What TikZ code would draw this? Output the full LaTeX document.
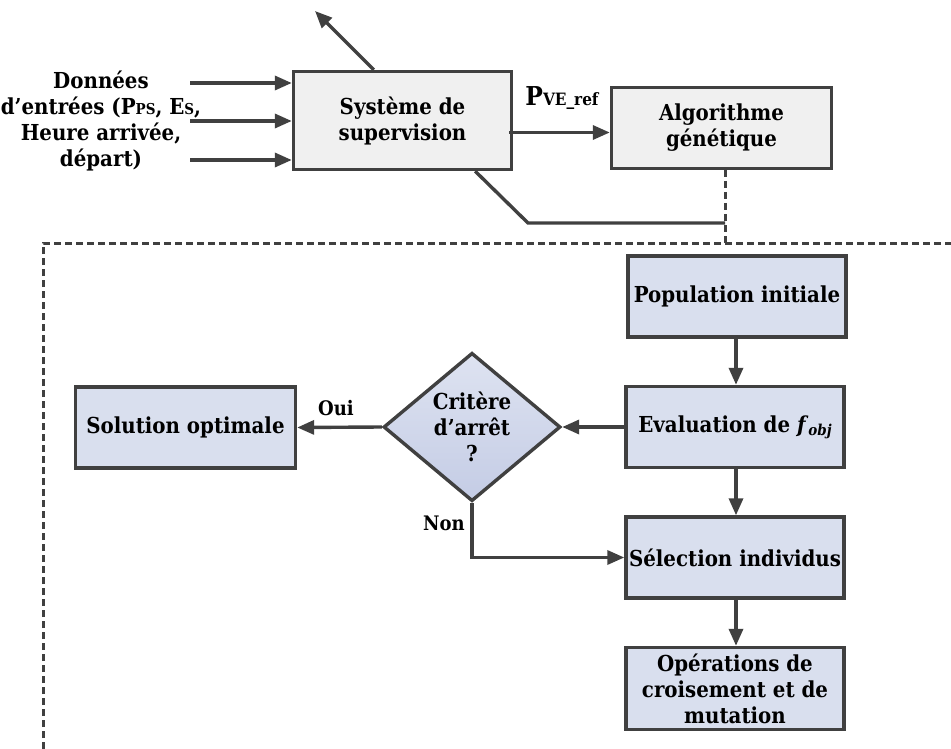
\documentclass[tikz,border=0pt]{standalone}
\usepackage{fontspec}
\setmainfont[FakeStretch=0.9]{DejaVu Serif}
\usetikzlibrary{arrows.meta,shapes.geometric,calc}
\definecolor{edgec}{HTML}{404040}
\definecolor{grayfill}{HTML}{F0F0F0}
\definecolor{bluefill}{HTML}{D9DFEE}
\definecolor{diatop}{HTML}{DEE3F1}
\definecolor{diabot}{HTML}{C4CCE5}
\begin{document}
\begin{tikzpicture}[x=1pt,y=-1pt,
  txt/.style={font=\fontsize{22}{26}\selectfont\bfseries, align=center},
  boxbase/.style={txt, draw=edgec, line width=3.4pt, inner sep=2pt},
  upbox/.style={boxbase, fill=grayfill},
  lowbox/.style={boxbase, fill=bluefill, minimum width=218pt, minimum height=81pt},
  decide/.style={txt, diamond, draw=edgec, line width=3.4pt, top color=diatop, bottom color=diabot, minimum width=177pt, minimum height=127pt, inner sep=0pt},
  arr/.style={draw=edgec, line width=3.4pt, -{Triangle[length=17pt,width=14pt]}},
  ln/.style={draw=edgec, line width=3.4pt},
  dsh/.style={draw=edgec, line width=3pt, dash pattern=on 7pt off 4pt},
  lbl/.style={font=\fontsize{20}{23}\selectfont\bfseries}
]
\useasboundingbox (0,0) rectangle (951,749);

% upper part
\node[upbox, minimum width=218pt, minimum height=98pt] (sys) at (402.5,120.5) {Système de\\supervision};
\node[upbox, minimum width=220pt, minimum height=81pt] (alg) at (721.5,128) {Algorithme\\génétique};
\node[txt] (inp) at (101,121) {Données\\d’entrées (P{\fontsize{15}{16}\selectfont PS}, E{\fontsize{15}{16}\selectfont S},\\Heure arrivée,\\départ)};
\node (pve) at (562,98) {\bfseries{\fontsize{26}{30}\selectfont P}{\fontsize{17}{20}\selectfont VE\_ref}};

\coordinate (in1) at (190,83);
\coordinate (in2) at (190,121);
\coordinate (in3) at (190,160);
\draw[arr] (in1) -- (in1 -| sys.west);
\draw[arr] (in2) -- (in2 -| sys.west);
\draw[arr] (in3) -- (in3 -| sys.west);

\coordinate (outp) at (315,11);
\draw[arr] ($(sys.north west)+(82,0)$) -- (outp);

\coordinate (sa) at ($(sys.east)+(-4,12)$);
\draw[arr] (sa) -- (sa -| alg.west);

\coordinate (fb1) at (528,223);
\coordinate (fb2) at (725,223);
\draw[ln] ($(sys.south east)+(-38,0)$) -- (fb1) -- (fb2);

% dashed frame
\coordinate (dtop) at (725,243);
\coordinate (dl) at (43,243);
\coordinate (dlb) at (43,749);
\coordinate (dr) at (951,243);
\draw[dsh] (725,170) -- (dtop);
\draw[dsh] (dlb) -- (dl) -- (dr);

% lower part
\node[lowbox] (pop) at (737,296.5) {Population initiale};
\node[lowbox] (eval) at (735,427) {Evaluation de \textit{f}\raisebox{-3pt}{\fontsize{15}{16}\selectfont\itshape obj}};
\node[lowbox] (sel) at (735,557.5) {Sélection individus};
\node[lowbox, minimum height=82pt] (ops) at (735,688.5) {Opérations de\\croisement et de\\mutation};
\node[lowbox, minimum width=220pt] (sol) at (185.5,427.5) {Solution optimale};
\node[decide] (crit) at (472,427) {Critère\\d’arrêt\\?};

\draw[arr] (pop.south -| 736,0) -- (eval.north -| 736,0);
\draw[arr] (eval.south -| 736,0) -- (sel.north -| 736,0);
\draw[arr] (sel.south -| 736,0) -- (ops.north -| 736,0);
\draw[arr] (eval.west) -- (crit.east);
\draw[arr] (crit.west) -- (sol.east);
\draw[arr] (crit.south) |- (sel.west);

\node[lbl] (oui) at (336,408) {Oui};
\node[lbl] (non) at (444,523) {Non};
\end{tikzpicture}
\end{document}
